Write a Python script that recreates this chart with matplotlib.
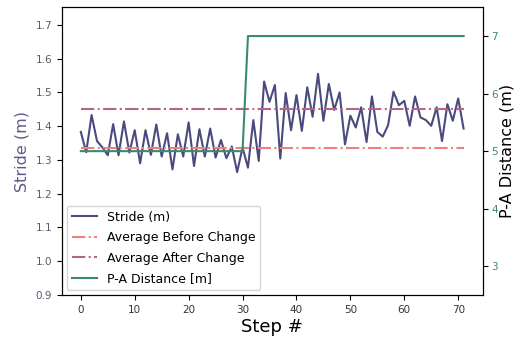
import matplotlib
matplotlib.use("Agg")
import matplotlib.pyplot as plt
import numpy as np

steps = list(range(72))
stride = [1.383, 1.323, 1.433, 1.356, 1.337, 1.314, 1.406, 1.314, 1.414, 1.322,
          1.388, 1.290, 1.388, 1.315, 1.405, 1.310, 1.379, 1.272, 1.376, 1.310,
          1.411, 1.282, 1.391, 1.310, 1.393, 1.307, 1.359, 1.305, 1.340, 1.264,
          1.337, 1.277, 1.418, 1.297, 1.532, 1.472, 1.522, 1.304, 1.498, 1.388,
          1.492, 1.386, 1.515, 1.428, 1.555, 1.416, 1.525, 1.448, 1.500, 1.346,
          1.431, 1.396, 1.456, 1.353, 1.488, 1.383, 1.369, 1.403, 1.502, 1.462,
          1.475, 1.401, 1.488, 1.426, 1.418, 1.401, 1.456, 1.356, 1.465, 1.416,
          1.482, 1.393]
pa_distance = [5] * 31 + [7] * 41
avg_before = 1.334
avg_after = 1.450

stride_color = "#4b4a7f"
before_color = "#f08080"
after_color = "#b5648a"
pa_color = "#3a8a72"

fig = plt.figure(figsize=(5.17, 3.42), dpi=100)
ax1 = fig.add_axes([0.1193, 0.1374, 0.8144, 0.8413])
ax2 = ax1.twinx()

l1, = ax1.plot(steps, stride, color=stride_color, lw=1.5, label="Stride (m)")
l2, = ax1.plot([steps[0], steps[-1]], [avg_before, avg_before], color=before_color,
               lw=1.5, ls="-.", label="Average Before Change")
l3, = ax1.plot([steps[0], steps[-1]], [avg_after, avg_after], color=after_color,
               lw=1.5, ls="-.", label="Average After Change")
l4, = ax2.plot(steps, pa_distance, color=pa_color, lw=1.5, label="P-A Distance [m]")

ax1.set_ylim(0.9, 1.752)
ax2.set_ylim(2.5, 7.5)
ax1.set_yticks(np.arange(0.9, 1.71, 0.1))
ax2.set_yticks([3, 4, 5, 6, 7])
ax1.set_xticks([0, 10, 20, 30, 40, 50, 60, 70])

ax1.tick_params(axis="y", labelsize=7.5, labelcolor="#5a5a70")
ax1.tick_params(axis="x", labelsize=7.5, labelcolor="#333333")
ax2.tick_params(axis="y", labelsize=7.5, labelcolor=pa_color, pad=2.5)

ax1.set_xlabel("Step #", fontsize=13, labelpad=2)
ax1.set_ylabel("Stride (m)", fontsize=11.5, color="#5d5b8c")
ax2.set_ylabel("P-A Distance (m)", fontsize=11.5, labelpad=1)

ax1.legend(handles=[l1, l2, l3, l4], loc="lower left", fontsize=9,
           labelspacing=0.6, borderaxespad=0.4)

fig.savefig("out.png", dpi=100)
